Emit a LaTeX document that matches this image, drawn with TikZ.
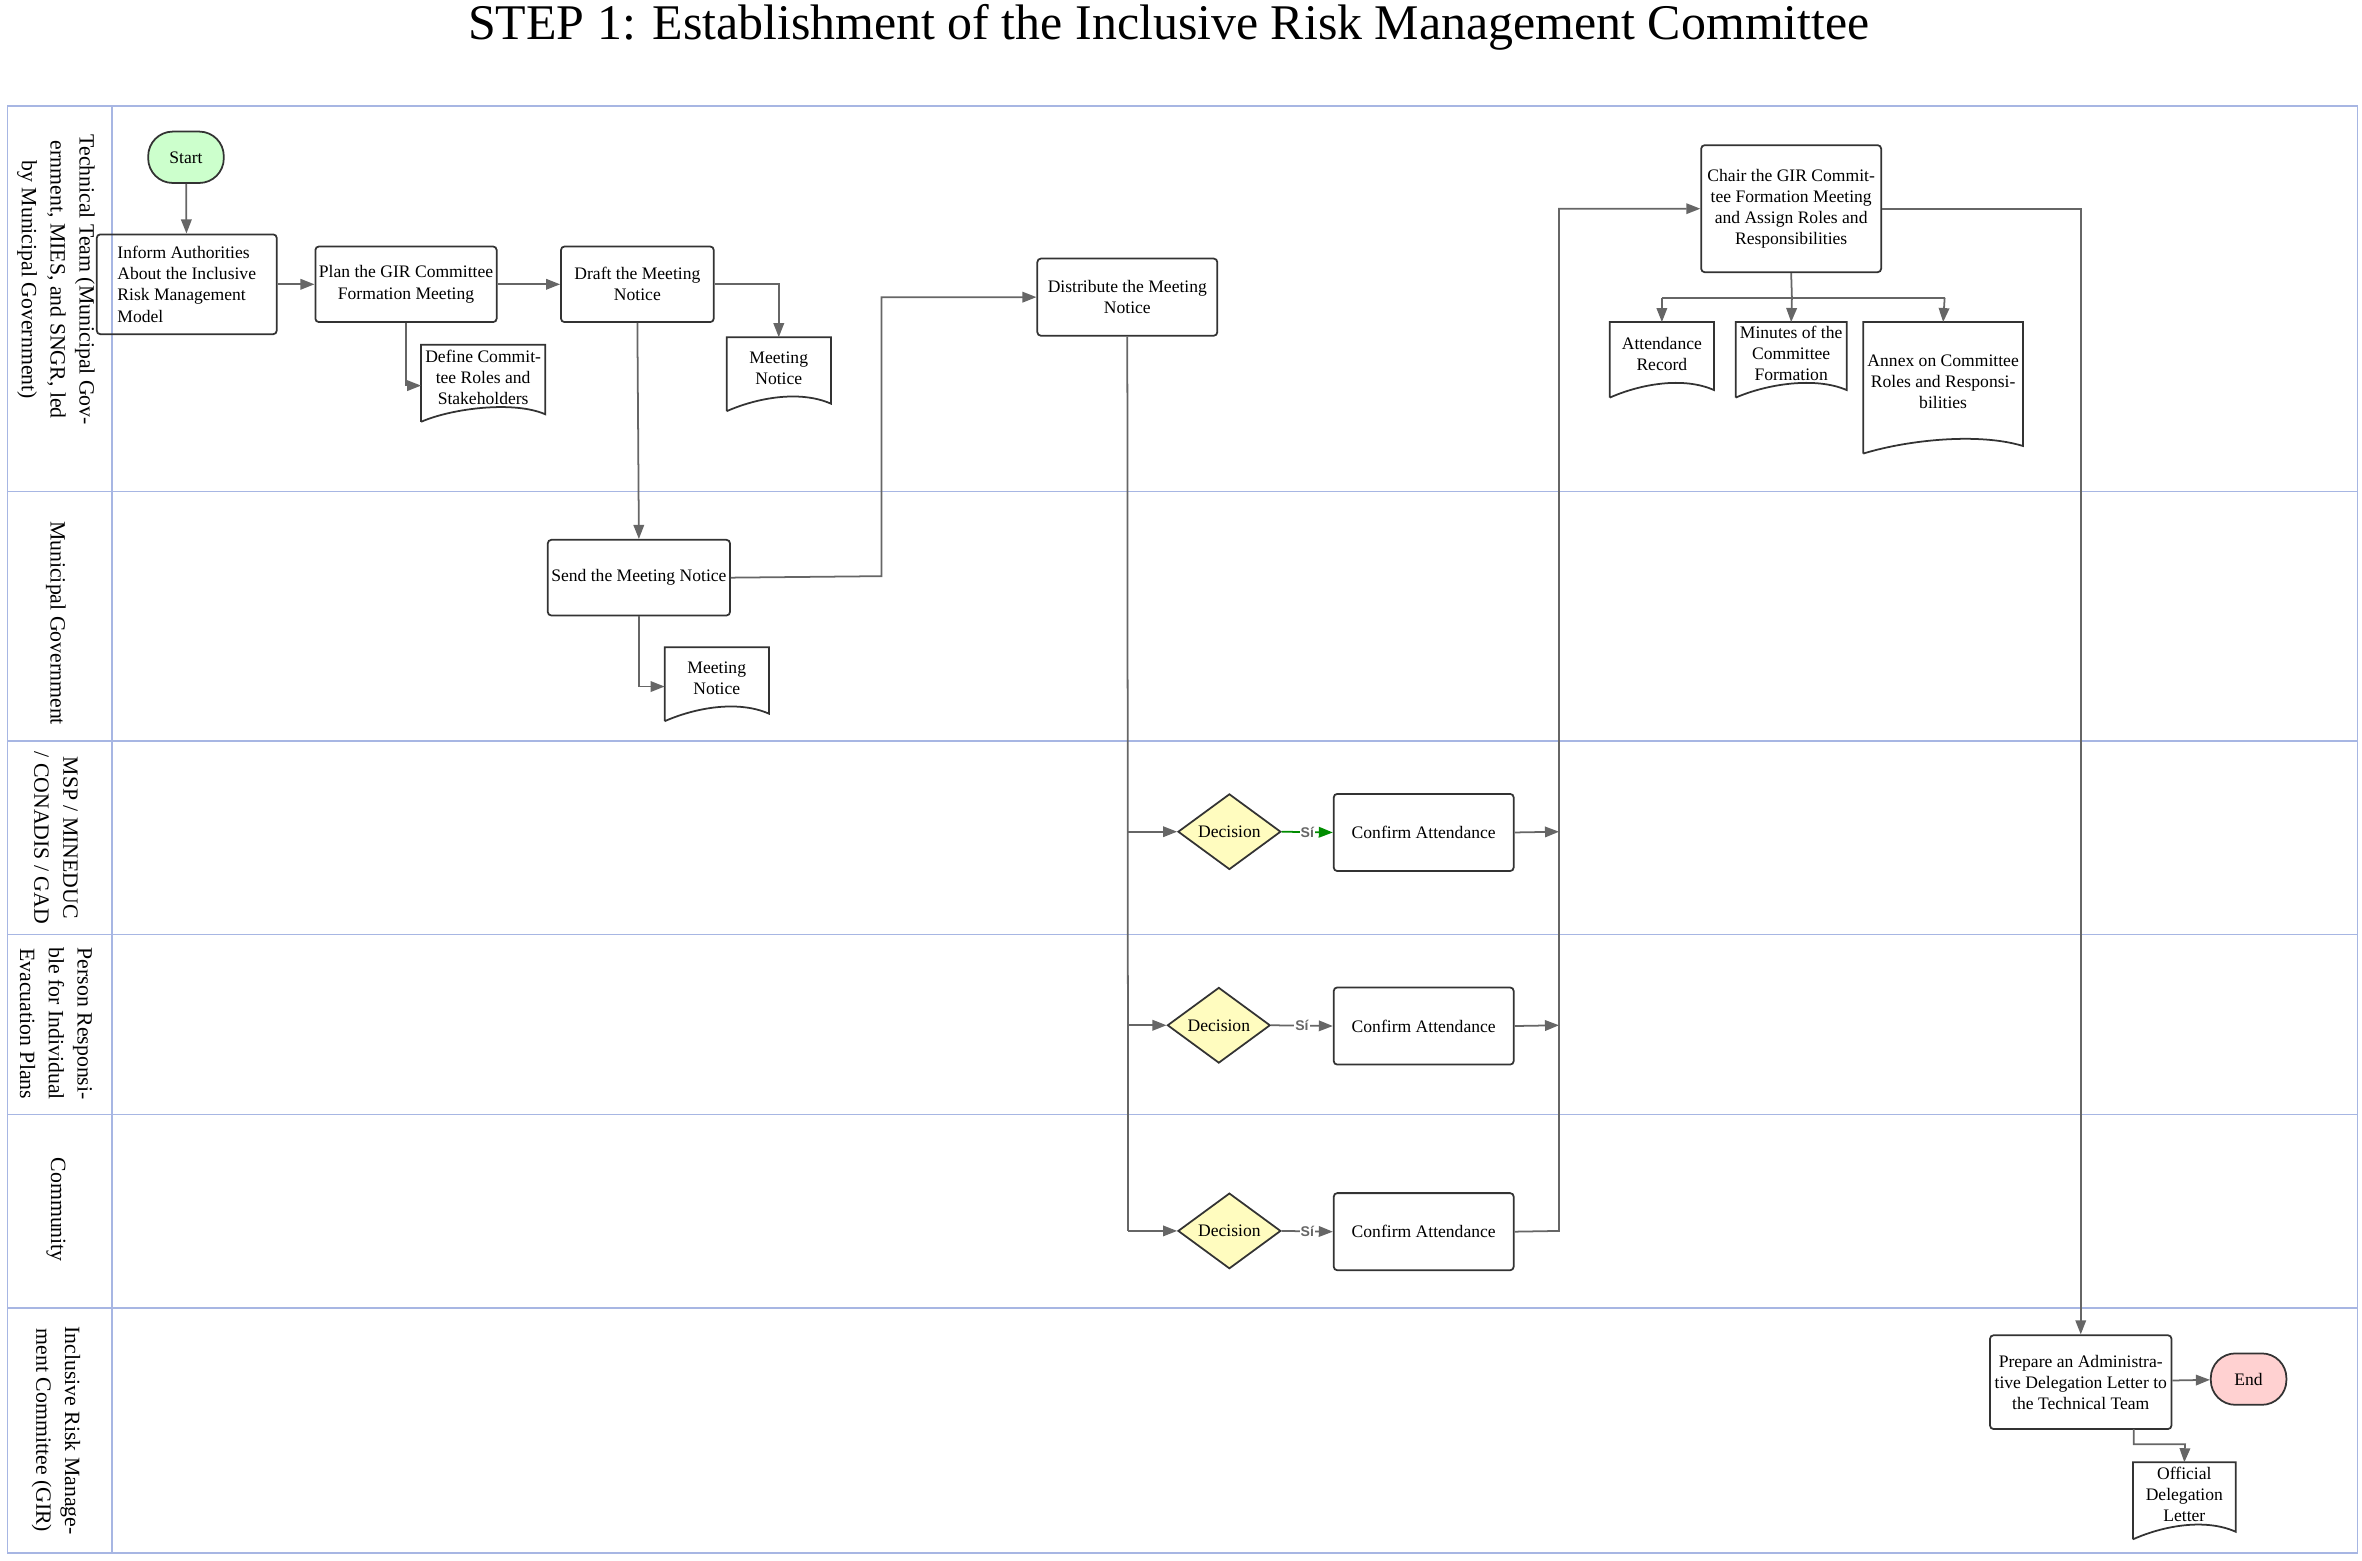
\documentclass[tikz,border=0pt]{standalone}
\usepackage{fontspec}
\setmainfont{Liberation Serif}
\setsansfont{Liberation Sans}
\usetikzlibrary{shapes.geometric,arrows.meta,calc}
\begin{document}
\begin{tikzpicture}[x=0.01512cm,y=-0.01512cm,
  lane/.style={draw=cyan!40!blue!35, line width=0.5pt},
  box/.style={draw=black!80, rounded corners=1pt, line width=0.5pt, align=center, font=\fontsize{5}{6}\selectfont, inner sep=1pt},
  doc/.style={draw=none, align=center, font=\fontsize{5}{6}\selectfont, inner sep=1pt, anchor=north},
  dec/.style={diamond, draw=black!80, fill=yellow!25, aspect=1.36, inner sep=0pt, font=\fontsize{5}{6}\selectfont, line width=0.5pt},
  term/.style={rounded corners=7pt, draw=black!80, font=\fontsize{5}{6}\selectfont, line width=0.5pt},
  lbl/.style={rotate=-90, align=center, font=\fontsize{6.2}{8.2}\selectfont},
  arr/.style={draw=black!60, line width=0.5pt, -{Triangle[length=4pt,width=3pt]}},
  ln/.style={draw=black!60, line width=0.5pt},
  si/.style={font=\sffamily\bfseries\fontsize{4}{4}\selectfont, text=black!60, fill=white, inner sep=0.3pt}
]
\useasboundingbox (0,0) rectangle (1562,1032);
\node (title) at (773,18) {\fontsize{14.2}{16}\selectfont STEP 1: Establishment of the Inclusive Risk Management Committee};
% lanes
\draw[lane] (5,70) rectangle (1559,1027);
\draw[lane] (74,70) -- (74,1027);
\foreach \y in {325,490,618,737,865} \draw[lane] (5,\y) -- (1559,\y);
\node[lbl] (l1) at (37,185) {Technical Team (Municipal Gov-\\ernment, MIES, and SNGR, led\\by Municipal Government)};
\node[lbl] (l2) at (37,412) {Municipal Government};
\node[lbl] (l3) at (37,554) {MSP / MINEDUC\\/ CONADIS / GAD};
\node[lbl] (l4) at (37,677) {Person Responsi-\\ble for Individual\\Evacuation Plans};
\node[lbl] (l5) at (37,800) {Community};
\node[lbl] (l6) at (37,946) {Inclusive Risk Manage-\\ment Committee (GIR)};
% nodes
\node[term, fill=green!20, minimum width=50*0.01512cm, minimum height=34*0.01512cm] (start) at (123,104) {Start};
\node[box, align=left, minimum width=119*0.01512cm, minimum height=66*0.01512cm] (inform) at (123.5,188) {Inform Authorities\\About the Inclusive\\Risk Management\\Model};
\node[box, minimum width=119*0.01512cm, minimum height=50*0.01512cm] (plan) at (268.5,188) {Plan the GIR Committee\\Formation Meeting};
\node[box, minimum width=101*0.01512cm, minimum height=50*0.01512cm] (draft) at (421.5,188) {Draft the Meeting\\Notice};
\node[box, minimum width=119*0.01512cm, minimum height=51*0.01512cm] (dist) at (745.5,196.5) {Distribute the Meeting\\Notice};
\node[box, minimum width=119*0.01512cm, minimum height=84*0.01512cm] (chair) at (1184.5,138) {Chair the GIR Commit-\\tee Formation Meeting\\and Assign Roles and\\Responsibilities};
\node[box, minimum width=119*0.01512cm, minimum height=50*0.01512cm] (send) at (422.5,382) {Send the Meeting Notice};
\node[dec, minimum width=68*0.01512cm, minimum height=50*0.01512cm] (d1) at (813,550) {Decision};
\node[dec, minimum width=68*0.01512cm, minimum height=50*0.01512cm] (d2) at (806,678) {Decision};
\node[dec, minimum width=68*0.01512cm, minimum height=50*0.01512cm] (d3) at (813,814) {Decision};
\node[box, minimum width=119*0.01512cm, minimum height=51*0.01512cm] (c1) at (941.5,550.5) {Confirm Attendance};
\node[box, minimum width=119*0.01512cm, minimum height=51*0.01512cm] (c2) at (941.5,678.5) {Confirm Attendance};
\node[box, minimum width=119*0.01512cm, minimum height=51*0.01512cm] (c3) at (941.5,814.5) {Confirm Attendance};
\node[box, minimum width=120*0.01512cm, minimum height=62*0.01512cm] (prep) at (1376,914) {Prepare an Administra-\\tive Delegation Letter to\\the Technical Team};
\node[term, fill=red!18, minimum width=50*0.01512cm, minimum height=34*0.01512cm] (end) at (1487,912) {End};
% documents
\newcommand\mydoc[6]{%
  \node[doc, minimum width=#4*0.01512cm, minimum height=#5*0.01512cm] (#1) at (#2,#3) {\\[-6.5pt]#6};
  \draw[black!80, line width=0.5pt] (#1.south west) -- (#1.north west) -- (#1.north east) -- ($(#1.south east)+(0,-5)$)
    .. controls +(-0.3*#4,-9) and +(0.3*#4,-9) .. (#1.south west);}
\mydoc{def}{319.5}{228}{69}{50}{Define Commit-\\tee Roles and\\Stakeholders}
\mydoc{mn1}{515}{223}{68}{48}{Meeting\\Notice}
\mydoc{mn2}{474}{428}{68}{48}{Meeting\\Notice}
\mydoc{att}{1099}{213}{68}{49}{Attendance\\Record}
\mydoc{min}{1184.5}{213}{69}{49}{Minutes of the\\Committee\\Formation}
\mydoc{anx}{1285}{213}{98}{86}{Annex on Committee\\Roles and Responsi-\\bilities}
\mydoc{off}{1444.5}{967}{67}{50}{Official\\Delegation\\Letter}
% connectors
\draw[arr] (start) -- (inform);
\draw[arr] (inform) -- (plan);
\draw[arr] (plan) -- (draft);
\draw[arr] (plan.south) |- (def.west |- 0,255);
\draw[arr] (draft.east) -| (mn1.north);
\draw[arr] (draft.south) -- (send.north);
\draw[arr] (send.south) |- (mn2.west |- 0,454);
\draw[arr] (send.east) -- (583,381) |- (dist.west);
\draw[ln] (dist.south) -- (746,814);
\draw[arr] (746,550) -- (d1.west);
\draw[arr] (746,678) -- (d2.west);
\draw[arr] (746,814) -- (d3.west);
\draw[draw=green!55!black, line width=0.5pt, -{Triangle[length=4pt,width=3pt]}, fill=green!55!black] (d1.east) -- node[si]{Sí} (c1.west);
\draw[arr] (d2.east) -- node[si]{Sí} (c2.west);
\draw[arr] (d3.east) -- node[si]{Sí} (c3.west);
\draw[arr] (c1.east) -- (1031,550);
\draw[arr] (c2.east) -- (1031,678);
\draw[arr] (c3.east) -- (1031,814) |- (chair.west);
\draw[ln] (chair.south) -- (1185,197);
\draw[ln] (1099,197) -- (1286,197);
\draw[arr] (1099,197) -- (att.north);
\draw[arr] (1185,197) -- (min.north);
\draw[arr] (1286,197) -- (anx.north);
\draw[arr] (chair.east) -| (prep.north);
\draw[arr] (prep) -- (end);
\draw[arr] (1411,945) |- (1445,955) -- (off.north);
\end{tikzpicture}
\end{document}
